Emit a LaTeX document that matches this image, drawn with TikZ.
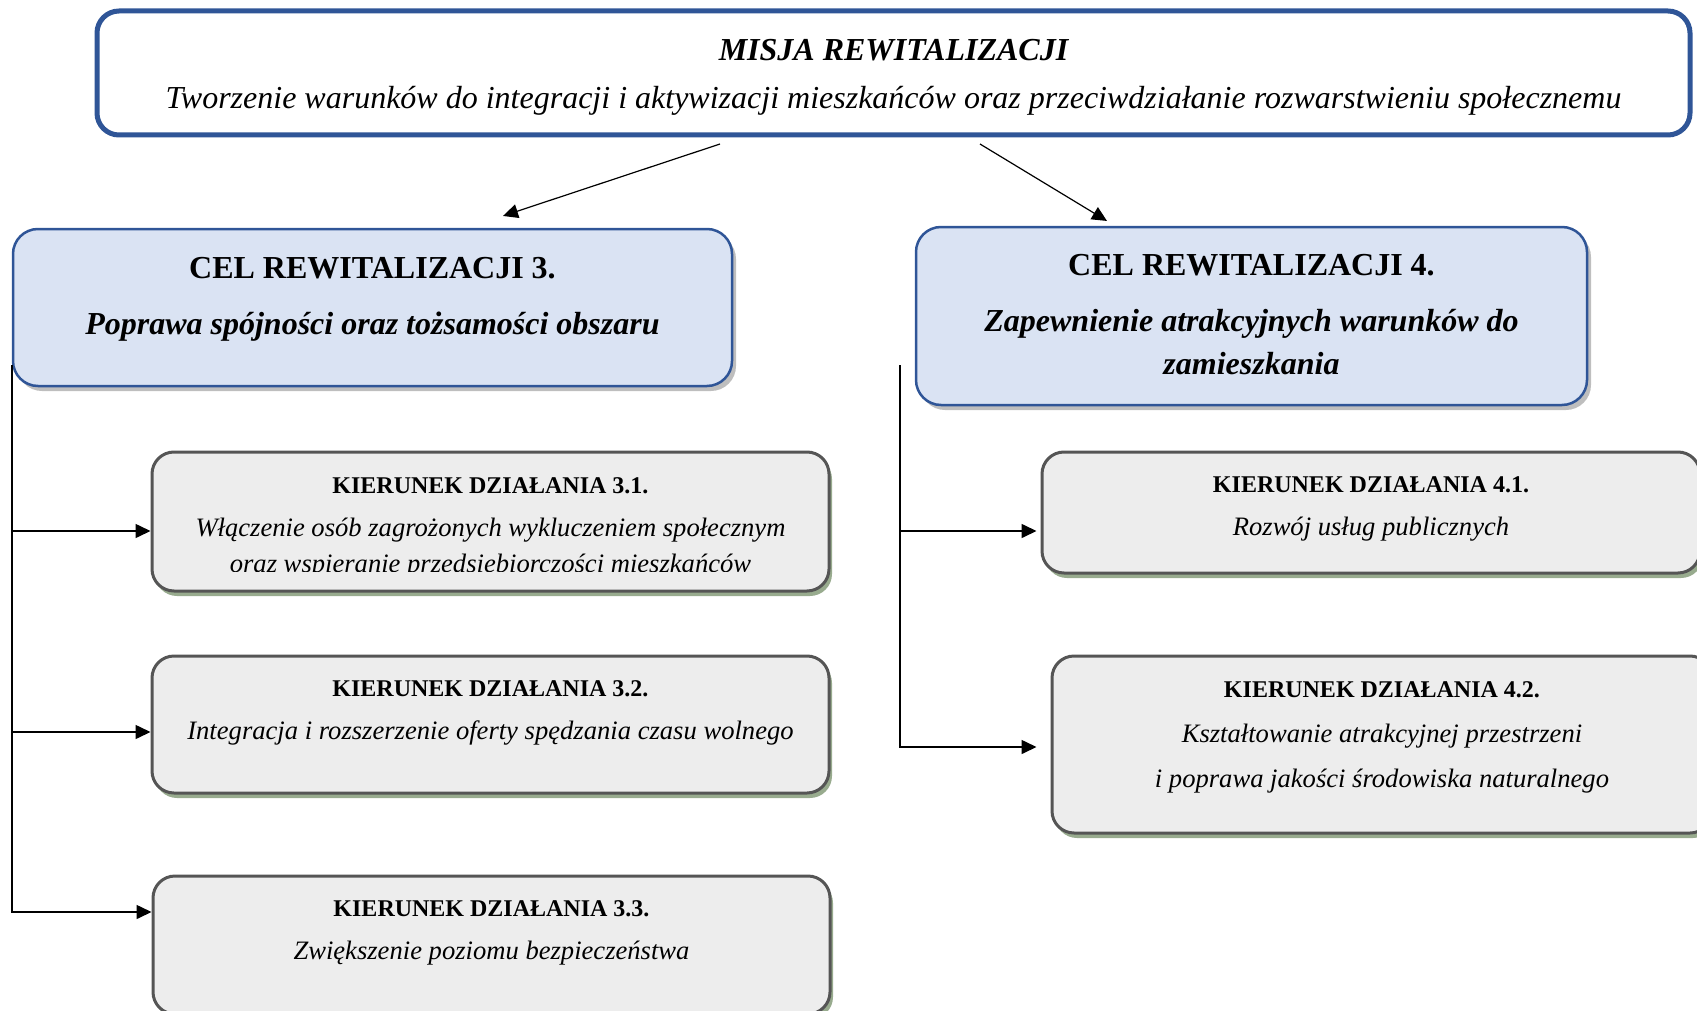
\documentclass[tikz,border=0pt]{standalone}
\usepackage{fontspec}
\setmainfont{Liberation Serif}
\usetikzlibrary{arrows.meta,shadows}
\definecolor{misblue}{RGB}{47,85,151}
\definecolor{celfill}{RGB}{218,227,243}
\definecolor{celshadow}{RGB}{190,190,190}
\definecolor{kfill}{RGB}{237,237,237}
\definecolor{kdraw}{RGB}{85,85,85}
\definecolor{kshadow}{RGB}{152,171,142}
\newcommand{\ktitle}[1]{{\fontsize{12}{21.5}\selectfont\bfseries\upshape #1}}
\begin{document}
\begin{tikzpicture}
[x=0.5pt,y=-0.5pt,thick,>={Triangle[length=7.5pt,width=7pt]},%
  mis/.style={draw=misblue,line width=2.5pt,rounded corners=11pt,fill=white,%
    align=center,inner ysep=0pt,minimum width=796.5pt,font=\fontsize{16}{24}\selectfont\itshape},%
  cel/.style={draw=misblue,line width=1.25pt,rounded corners=12.5pt,fill=celfill,%
    align=center,inner ysep=0pt,font=\fontsize{16}{21.5}\selectfont\bfseries,%
    drop shadow={shadow xshift=2pt,shadow yshift=-2.5pt,fill=celshadow,opacity=1}},%
  kier/.style={draw=kdraw,line width=1.5pt,rounded corners=11pt,fill=kfill,%
    align=center,inner ysep=0pt,minimum width=338.5pt,font=\fontsize{13.3}{21.5}\selectfont\itshape,%
    drop shadow={shadow xshift=1.5pt,shadow yshift=-2.5pt,fill=kshadow,opacity=1}}]
\clip (0,0) rectangle (1697,1011);
\node[mis,text height=49pt,text depth=13pt] (mis) at (893.5,73)
  {\textbf{MISJA REWITALIZACJI}\\
   Tworzenie warunków do integracji i aktywizacji mieszkańców oraz przeciwdziałanie rozwarstwieniu społecznemu};
\node[cel,minimum width=359.5pt,text height=52.75pt,text depth=25.75pt] (cel3) at (372.5,307.5)
  {CEL REWITALIZACJI 3.\\[6.5pt]
   \textit{Poprawa spójności oraz tożsamości obszaru}};
\node[cel,minimum width=335.5pt,text height=73.75pt,text depth=15.25pt] (cel4) at (1251.5,316)
  {CEL REWITALIZACJI 4.\\[6.5pt]
   \textit{Zapewnienie atrakcyjnych warunków do}\\
   \textit{zamieszkania}};
\begin{scope}[even odd rule]
\clip (0,0) rectangle (1697,1011) (215,572) rectangle (765,587);
\node[kier,text height=60pt,text depth=9.5pt] (k31) at (490.5,521.5)
  {\ktitle{KIERUNEK DZIAŁANIA 3.1.}\\
   Włączenie osób zagrożonych wykluczeniem społecznym\\[-3.5pt]
   oraz wspieranie przedsiębiorczości mieszkańców};
\end{scope}
\fill[kfill] (215,572) rectangle (765,587);
\node[kier,text height=41.5pt,text depth=27pt] (k32) at (490.5,724.5)
  {\ktitle{KIERUNEK DZIAŁANIA 3.2.}\\
   Integracja i rozszerzenie oferty spędzania czasu wolnego};
\node[kier,text height=41.5pt,text depth=27.5pt] (k33) at (491.5,945)
  {\ktitle{KIERUNEK DZIAŁANIA 3.3.}\\
   Zwiększenie poziomu bezpieczeństwa};
\node[kier,minimum width=329pt,text height=41.85pt,text depth=18.65pt] (k41) at (1371,512.5)
  {\ktitle{KIERUNEK DZIAŁANIA 4.1.}\\
   Rozwój usług publicznych};
\node[kier,minimum width=330pt,text height=65.9pt,text depth=22.6pt] (k42) at (1382,744.5)
  {\ktitle{KIERUNEK DZIAŁANIA 4.2.}\\[1pt]
   Kształtowanie atrakcyjnej przestrzeni\\[1pt]
   i poprawa jakości środowiska naturalnego};
\draw[->,semithick] ([xshift=-86.75pt,yshift=-3.25pt]mis.south) -- ([xshift=65.25pt,yshift=5.9pt]cel3.north);
\draw[->,semithick] ([xshift=43.25pt,yshift=-3.25pt]mis.south) -- ([xshift=-72.25pt,yshift=2.4pt]cel4.north);
\coordinate (t3) at ([yshift=-28.75pt]cel3.west);
\coordinate (t4) at ([xshift=-7.4pt,yshift=-24.5pt]cel4.west);
\draw[->] (t3) |- ([yshift=16.5pt]k33.west);
\draw[->] ([yshift=-4.75pt]k31.west -| t3) -- ([yshift=-4.75pt]k31.west);
\draw[->] ([yshift=-3.75pt]k32.west -| t3) -- ([yshift=-3.75pt]k32.west);
\draw[->,shorten >=7pt] (t4) |- ([yshift=-1.25pt]k42.west);
\draw[->,shorten >=2pt] ([yshift=-9.25pt]k41.west -| t4) -- ([yshift=-9.25pt]k41.west);
\end{tikzpicture}
\end{document}
